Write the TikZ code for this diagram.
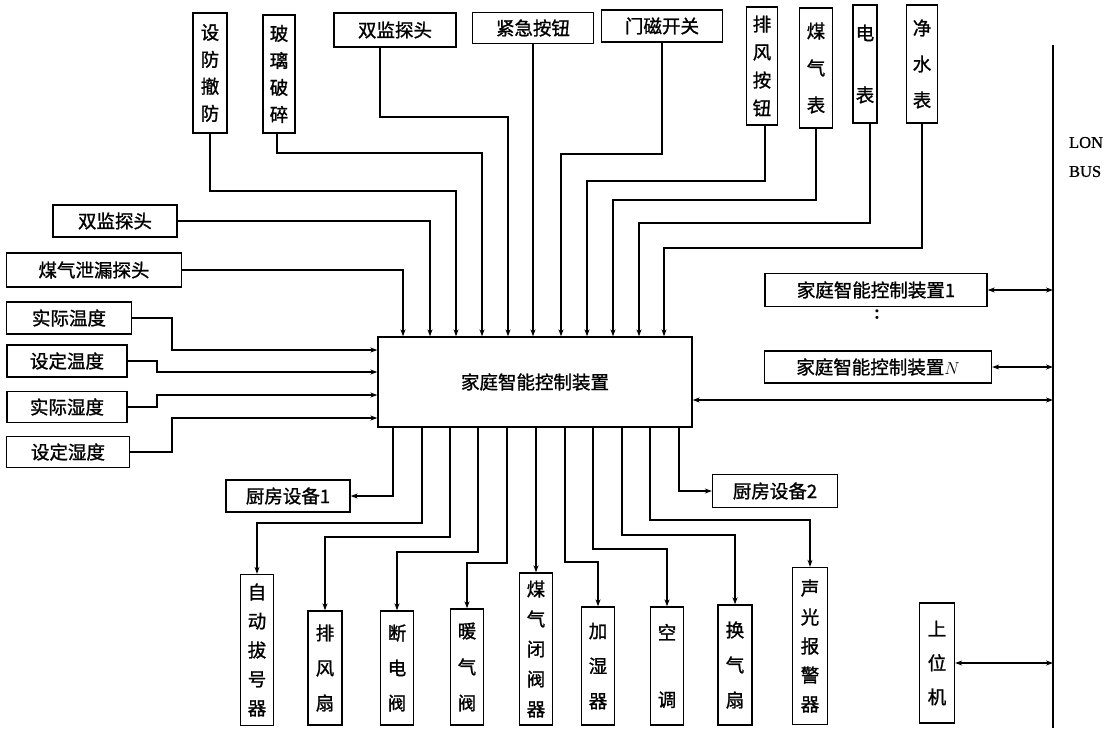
\documentclass[tikz,border=0pt]{standalone}
\usepackage{fontspec}
\newfontfamily\cjk[FakeBold=1.2]{Noto Sans CJK SC}
\newfontfamily\busfont[FakeBold=0.8]{Liberation Serif}
\usetikzlibrary{arrows.meta}
\tikzset{
  hdev/.style={draw, inner sep=1pt, font=\cjk\fontsize{18.5}{22}\selectfont},
  vdev/.style={draw, inner sep=1pt, align=center, font=\cjk\fontsize{18.5}{#1}\selectfont},
}
\begin{document}
\begin{tikzpicture}[x=1pt, y=-1pt, line width=1.3pt, >={Stealth[length=7pt,width=5pt]}]
\useasboundingbox (0,0) rectangle (1113,728);
% main unit
\node[hdev, minimum width=314pt, minimum height=90pt] (main) at (535,382) {家庭智能控制装置};
% top inputs
\node[vdev=27pt, minimum width=34pt, minimum height=120pt] (sfcf) at (210,73) {设\\防\\撤\\防};
\node[vdev=27pt, minimum width=32pt, minimum height=118pt] (blps) at (279,74) {玻\\璃\\破\\碎};
\node[hdev, minimum width=122pt, minimum height=34pt] (sjtop) at (395,30) {双监探头};
\node[hdev, minimum width=121pt, minimum height=31pt] (jjan) at (533,28) {紧急按钮};
\node[hdev, minimum width=121pt, minimum height=32pt] (mcks) at (662,26) {门磁开关};
\node[vdev=28pt, minimum width=31pt, minimum height=118pt] (pfan) at (762,66) {排\\风\\按\\钮};
\node[vdev=37pt, minimum width=33pt, minimum height=120pt] (mqb) at (816,68) {煤\\气\\表};
\node[vdev=62pt, minimum width=24pt, minimum height=118pt] (db) at (865,64) {电\\表};
\node[vdev=36pt, minimum width=31pt, minimum height=118pt] (jsb) at (922,64) {净\\水\\表};
% left inputs
\node[hdev, minimum width=124pt, minimum height=32pt] (sjleft) at (115,221) {双监探头};
\node[hdev, minimum width=175pt, minimum height=34pt] (mqxl) at (94,270) {煤气泄漏探头};
\node[hdev, minimum width=125pt, minimum height=32pt] (sjwd) at (69,318) {实际温度};
\node[hdev, minimum width=120pt, minimum height=32pt] (sdwd) at (67,361) {设定温度};
\node[hdev, minimum width=120pt, minimum height=31pt] (sjsd) at (67,407) {实际湿度};
\node[hdev, minimum width=123pt, minimum height=31pt] (sdsd) at (68,452) {设定湿度};
% outputs
\node[hdev, minimum width=124pt, minimum height=32pt] (cf1) at (288,496) {厨房设备1};
\node[hdev, minimum width=125pt, minimum height=33pt] (cf2) at (775,491) {厨房设备2};
\node[vdev=29pt, minimum width=33pt, minimum height=151pt] (zdbh) at (257,650) {自\\动\\拔\\号\\器};
\node[vdev=35pt, minimum width=34pt, minimum height=114pt] (pfs) at (325,668) {排\\风\\扇};
\node[vdev=35pt, minimum width=33pt, minimum height=114pt] (ddf) at (397,668) {断\\电\\阀};
\node[vdev=36pt, minimum width=33pt, minimum height=116pt] (nqf) at (467,667) {暖\\气\\阀};
\node[vdev=30pt, minimum width=33pt, minimum height=152pt] (mqbf) at (536,649) {煤\\气\\闭\\阀\\器};
\node[vdev=35pt, minimum width=33pt, minimum height=118pt] (jsq) at (598,666) {加\\湿\\器};
\node[vdev=67pt, minimum width=33pt, minimum height=118pt] (kt) at (667,666) {空\\调};
\node[vdev=35pt, minimum width=34pt, minimum height=120pt] (hqs) at (735,665) {换\\气\\扇};
\node[vdev=29pt, minimum width=35pt, minimum height=157pt] (sgbj) at (810,646) {声\\光\\报\\警\\器};
% bus side
\node[hdev, minimum width=222pt, minimum height=33pt] (kz1) at (876,290) {家庭智能控制装置1};
\node[font=\bfseries\fontsize{22}{22}\selectfont] (vdots) at (877,315) {:};
\node[hdev, minimum width=227pt, minimum height=32pt] (kzN) at (878,367) {家庭智能控制装置$N$};
\node[vdev=34pt, minimum width=35pt, minimum height=120pt] (swj) at (937,663) {上\\位\\机};
\node[align=left, inner sep=0pt, font=\busfont\fontsize{16.5}{29}\selectfont] (lon) at (1086,157) {LON\\BUS};
\coordinate (bustop) at (1053,45);
\coordinate (busbot) at (1053,728);
\draw[line width=2pt] (bustop) -- (busbot);
% into the top of the unit
\draw[->] (mqxl.east) -| (403,0 |- main.north);
\draw[->] (sjleft.east) -| (430,0 |- main.north);
\draw[->] (sfcf.south) |- (456,191) -- (456,0 |- main.north);
\draw[->] ([xshift=-2pt]blps.south) |- (482,153) -- (482,0 |- main.north);
\draw[->] ([xshift=-15pt]sjtop.south) |- (508,117) -- (508,0 |- main.north);
\draw[->] (jjan.south) -- (jjan.south |- main.north);
\draw[->] (mcks.south) |- (561,154) -- (561,0 |- main.north);
\draw[->] ([xshift=3pt]pfan.south) |- (587,181) -- (587,0 |- main.north);
\draw[->] (mqb.south) |- (613,200) -- (613,0 |- main.north);
\draw[->] ([xshift=5pt]db.south) |- (639,223) -- (639,0 |- main.north);
\draw[->] (jsb.south) |- (664,248) -- (664,0 |- main.north);
% into the left side
\draw[->] (sjwd.east) -| (172,350) -- (172,350 -| main.west);
\draw[->] (sdwd.east) -| (157,372) -- (157,372 -| main.west);
\draw[->] (sjsd.east) -| (157,395) -- (157,395 -| main.west);
\draw[->] (sdsd.east) -| (172,418) -- (172,418 -| main.west);
% out of the bottom
\draw[->] (main.south -| 393,0) |- (cf1.east);
\draw[->] (main.south -| 422,0) |- (0,523 -| zdbh.north) -- (zdbh.north);
\draw[->] (main.south -| 450,0) |- (0,537 -| pfs.north) -- (pfs.north);
\draw[->] (main.south -| 478,0) |- (0,552 -| ddf.north) -- (ddf.north);
\draw[->] (main.south -| 507,0) |- (0,563 -| nqf.north) -- (nqf.north);
\draw[->] (main.south -| mqbf.north) -- (mqbf.north);
\draw[->] (main.south -| 565,0) |- (0,562 -| jsq.north) -- (jsq.north);
\draw[->] (main.south -| 593,0) |- (0,549 -| kt.north) -- (kt.north);
\draw[->] (main.south -| 622,0) |- (0,535 -| hqs.north) -- (hqs.north);
\draw[->] (main.south -| 650,0) |- (0,520 -| sgbj.north) -- (sgbj.north);
\draw[->] (main.south -| 679,0) |- (cf2.west);
% to the bus
\draw[<->] (kz1.east) -- (kz1.east -| bustop);
\draw[<->] (kzN.east) -- (kzN.east -| bustop);
\draw[<->] ([yshift=-18pt]main.east) -- ([yshift=-18pt]main.east -| bustop);
\draw[<->] (swj.east) -- (swj.east -| bustop);
\end{tikzpicture}
\end{document}
